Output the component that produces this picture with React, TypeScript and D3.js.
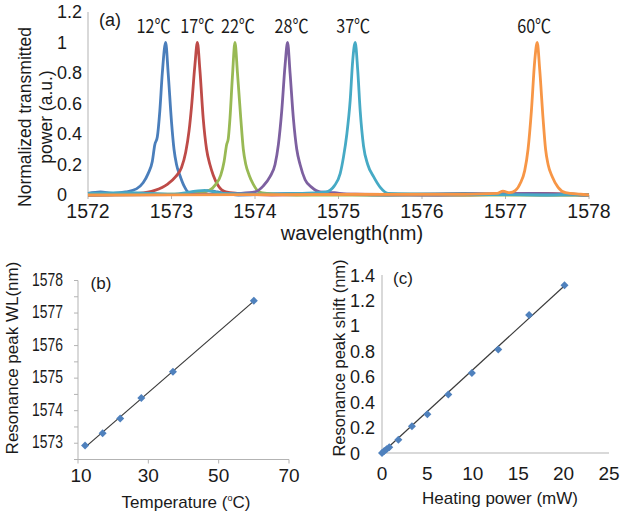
import { useEffect, useRef } from "react"
import * as d3 from "d3"

// (a) transmission spectra, [wavelength nm, normalized power]
const temps = [12, 17, 22, 28, 37, 60]
const curveColors = ["#4a7ebb", "#be4b48", "#98b954", "#7d60a0", "#46aac5", "#f79646"]

const spec12: [number, number][] = [
  [1572.0, 0.01], [1572.15, 0.02], [1572.3, 0.01], [1572.45, 0.02], [1572.58, 0.04], [1572.66, 0.08],
  [1572.72, 0.14], [1572.77, 0.22], [1572.8, 0.33], [1572.83, 0.38], [1572.86, 0.55], [1572.89, 0.8],
  [1572.93, 1.0], [1572.96, 0.8], [1573.0, 0.48], [1573.03, 0.3], [1573.06, 0.2], [1573.1, 0.13],
  [1573.15, 0.06], [1573.2, 0.02], [1573.3, 0.01], [1573.45, 0.03], [1573.55, 0.02], [1573.8, 0.0],
  [1574.5, 0.01], [1575.5, 0.0], [1576.5, 0.01], [1577.5, 0.0], [1578.0, 0.0],
]
const spec17: [number, number][] = [
  [1572.0, 0.0], [1572.4, 0.005], [1572.6, 0.01], [1572.8, 0.03], [1572.95, 0.07], [1573.05, 0.12],
  [1573.12, 0.18], [1573.17, 0.28], [1573.21, 0.42], [1573.24, 0.58], [1573.28, 0.85], [1573.31, 1.0],
  [1573.34, 0.82], [1573.38, 0.5], [1573.42, 0.3], [1573.46, 0.2], [1573.5, 0.13], [1573.56, 0.06],
  [1573.65, 0.02], [1573.8, 0.01], [1574.2, 0.0], [1575.2, 0.005], [1576.5, 0.0], [1577.4, 0.01],
  [1578.0, 0.0],
]
const spec22: [number, number][] = [
  [1572.0, 0.0], [1573.0, 0.005], [1573.3, 0.01], [1573.45, 0.03], [1573.53, 0.07], [1573.59, 0.13],
  [1573.63, 0.22], [1573.66, 0.33], [1573.68, 0.37], [1573.7, 0.5], [1573.73, 0.78], [1573.76, 1.0],
  [1573.79, 0.8], [1573.83, 0.5], [1573.86, 0.3], [1573.89, 0.2], [1573.93, 0.13], [1573.98, 0.07],
  [1574.05, 0.02], [1574.15, 0.01], [1574.5, 0.0], [1578.0, 0.0],
]
const spec28: [number, number][] = [
  [1572.0, 0.0], [1573.5, 0.005], [1573.8, 0.01], [1574.0, 0.02], [1574.1, 0.06], [1574.18, 0.12],
  [1574.24, 0.2], [1574.28, 0.33], [1574.32, 0.55], [1574.36, 0.85], [1574.39, 1.0], [1574.42, 0.8],
  [1574.46, 0.5], [1574.5, 0.3], [1574.54, 0.2], [1574.6, 0.1], [1574.68, 0.05], [1574.78, 0.02],
  [1574.95, 0.015], [1575.1, 0.005], [1576.0, 0.0], [1577.3, 0.01], [1578.0, 0.0],
]
const spec37: [number, number][] = [
  [1572.0, 0.01], [1572.5, 0.015], [1573.0, 0.005], [1573.4, 0.03], [1573.6, 0.01], [1574.0, 0.005],
  [1574.5, 0.01], [1574.75, 0.015], [1574.85, 0.02], [1574.95, 0.06], [1575.02, 0.14], [1575.06, 0.25],
  [1575.1, 0.4], [1575.14, 0.62], [1575.17, 0.88], [1575.2, 1.0], [1575.23, 0.82], [1575.26, 0.55],
  [1575.3, 0.32], [1575.35, 0.2], [1575.42, 0.12], [1575.5, 0.05], [1575.6, 0.01], [1576.5, 0.005],
  [1577.5, 0.0], [1577.8, 0.005], [1578.0, 0.0],
]
const spec60: [number, number][] = [
  [1572.0, 0.0], [1574.0, 0.002], [1576.5, 0.005], [1576.9, 0.01], [1576.97, 0.025], [1577.05, 0.015],
  [1577.12, 0.03], [1577.18, 0.08], [1577.23, 0.16], [1577.27, 0.3], [1577.31, 0.55], [1577.35, 0.88],
  [1577.38, 1.0], [1577.41, 0.82], [1577.45, 0.5], [1577.48, 0.3], [1577.51, 0.2], [1577.56, 0.12],
  [1577.63, 0.05], [1577.72, 0.015], [1577.9, 0.005], [1578.0, 0.0],
]
const spectra = [spec12, spec17, spec22, spec28, spec37, spec60]

// (b) resonance peak vs temperature
const peakWL = [1572.93, 1573.31, 1573.76, 1574.39, 1575.2, 1577.38]

// (c) peak shift vs heating power
const powerMW = [0, 0.25, 0.5, 0.8, 1.8, 3.3, 5.0, 7.3, 9.9, 12.8, 16.2, 20.1]
const shiftNM = [0, 0.015, 0.03, 0.045, 0.105, 0.21, 0.305, 0.46, 0.63, 0.815, 1.085, 1.32]

const wlTicks = [1572, 1573, 1574, 1575, 1576, 1577, 1578]
const powerTicks = [0, 0.2, 0.4, 0.6, 0.8, 1, 1.2]
const tempTicks = [10, 30, 50, 70]
const peakTicks = [1573, 1574, 1575, 1576, 1577, 1578]
const peakMinor = [1572.5, 1573.5, 1574.5, 1575.5, 1576.5, 1577.5]
const heatTicks = [0, 5, 10, 15, 20, 25]
const shiftTicks = [0, 0.2, 0.4, 0.6, 0.8, 1, 1.2, 1.4]

const font = "Arial, 'Liberation Sans', Helvetica, sans-serif"
const axisColor = "#b3b3b3"
const markerColor = "#4f81bd"

// least squares fit for the trendlines
const fit = (xs: number[], ys: number[]) => {
  const mx = d3.mean(xs) as number
  const my = d3.mean(ys) as number
  const sxy = d3.sum(xs, (x, i) => (x - mx) * (ys[i] - my))
  const sxx = d3.sum(xs, (x) => (x - mx) * (x - mx))
  const slope = sxy / sxx
  return (x: number) => my + slope * (x - mx)
}

const App = () => {
  const svgRef = useRef<SVGSVGElement>(null)

  useEffect(() => {
    const svg = d3.select(svgRef.current)
    svg.selectAll("*").remove()

    const txt = (g: any, x: number, y: number, s: string, size: number, anchor = "middle") =>
      g
        .append("text")
        .attr("x", x)
        .attr("y", y)
        .attr("text-anchor", anchor)
        .style("font-family", font)
        .style("font-size", size + "px")
        .style("fill", "#1a1a1a")
        .text(s)

    // ---------- panel (a) ----------
    const xA = d3.scaleLinear().domain([1572, 1578]).range([88, 589])
    const yA = d3.scaleLinear().domain([0, 1.2]).range([195, 12])
    const gA = svg.append("g")

    gA.append("line")
      .attr("x1", xA(1572)).attr("x2", xA(1572))
      .attr("y1", yA(0)).attr("y2", yA(1.2))
      .attr("stroke", axisColor)
    gA.append("line")
      .attr("x1", xA(1572)).attr("x2", xA(1578))
      .attr("y1", yA(0)).attr("y2", yA(0))
      .attr("stroke", axisColor)

    wlTicks.forEach((t) => {
      gA.append("line")
        .attr("x1", xA(t)).attr("x2", xA(t))
        .attr("y1", yA(0)).attr("y2", yA(0) + 4)
        .attr("stroke", axisColor)
      txt(gA, xA(t), 218, String(t), 19.5)
    })
    powerTicks.forEach((t) => txt(gA, 57, yA(t) + 6, String(t), 18, "start"))

    const lineA = d3
      .line<[number, number]>()
      .x((d) => xA(d[0]))
      .y((d) => yA(d[1]))
      .curve(d3.curveMonotoneX)

    spectra.forEach((s, i) => {
      gA.append("path")
        .datum(s)
        .attr("fill", "none")
        .attr("stroke", curveColors[i])
        .attr("stroke-width", 2.8)
        .attr("stroke-linejoin", "round")
        .attr("d", lineA)
    })

    // peak labels like "12℃", narrowed like the original
    const labelNudge = [-12, 0, 3, 4, -2, -3]
    temps.forEach((t, i) => {
      const lg = gA.append("g").attr("transform", `translate(${xA(peakWL[i]) + labelNudge[i]},33) scale(0.85,1)`)
      txt(lg, 0, 0, `${t}\u2103`, 19).style("font-family", "'Noto Sans CJK SC', 'DejaVu Sans', sans-serif")
    })

    txt(gA, 110, 26, "(a)", 18)
    txt(gA, 352, 240, "wavelength(nm)", 20)
    txt(gA, 0, 0, "Normalized transmitted", 17.5).attr("transform", "translate(31,117) rotate(-90)")
    txt(gA, 0, 0, "power (a.u.)", 17.5).attr("transform", "translate(52,117) rotate(-90)")

    // ---------- panel (b) ----------
    const xB = d3.scaleLinear().domain([10, 70]).range([78, 289])
    const yB = d3.scaleLinear().domain([1572.5, 1578]).range([459.5, 280.5])
    const gB = svg.append("g")

    gB.append("line")
      .attr("x1", xB(10)).attr("x2", xB(10))
      .attr("y1", yB(1572.5)).attr("y2", yB(1578))
      .attr("stroke", axisColor)
    gB.append("line")
      .attr("x1", xB(10)).attr("x2", xB(70))
      .attr("y1", yB(1572.5)).attr("y2", yB(1572.5))
      .attr("stroke", axisColor)

    peakTicks.concat(peakMinor).forEach((t) => {
      gB.append("line")
        .attr("x1", xB(10) - 4).attr("x2", xB(10))
        .attr("y1", yB(t)).attr("y2", yB(t))
        .attr("stroke", axisColor)
    })
    peakTicks.forEach((t) =>
      txt(gB, 63, yB(t) + 5, String(t), 19, "end")
        .attr("textLength", 31)
        .attr("lengthAdjust", "spacingAndGlyphs"),
    )
    tempTicks.forEach((t) => {
      gB.append("line")
        .attr("x1", xB(t)).attr("x2", xB(t))
        .attr("y1", yB(1572.5)).attr("y2", yB(1572.5) + 4)
        .attr("stroke", axisColor)
      txt(gB, xB(t) + (t === 10 ? 3 : 0), 482, String(t), 19)
    })

    const fitB = fit(temps, peakWL)
    gB.append("line")
      .attr("x1", xB(12)).attr("y1", yB(fitB(12)))
      .attr("x2", xB(60)).attr("y2", yB(fitB(60)))
      .attr("stroke", "#3a3a3a")
      .attr("stroke-width", 1.2)

    const diamond = d3.symbol().type(d3.symbolSquare).size(32)
    temps.forEach((t, i) => {
      gB.append("path")
        .attr("d", diamond())
        .attr("transform", `translate(${xB(t)},${yB(peakWL[i])}) rotate(45)`)
        .attr("fill", markerColor)
    })

    txt(gB, 101, 289, "(b)", 17)
    const tb = txt(gB, 186, 508, "Temperature (", 17)
    tb.append("tspan").attr("dy", -7).style("font-size", "9px").text("o")
    tb.append("tspan").attr("dy", 7).text("C)")
    txt(gB, 0, 0, "Resonance peak WL(nm)", 17).attr("transform", "translate(18,358) rotate(-90)")

    // ---------- panel (c) ----------
    const xC = d3.scaleLinear().domain([0, 25]).range([382, 609])
    const yC = d3.scaleLinear().domain([0, 1.4]).range([453, 275])
    const gC = svg.append("g")

    gC.append("line")
      .attr("x1", xC(0)).attr("x2", xC(0))
      .attr("y1", yC(0)).attr("y2", yC(1.4))
      .attr("stroke", axisColor)
    gC.append("line")
      .attr("x1", xC(0)).attr("x2", xC(25))
      .attr("y1", yC(0)).attr("y2", yC(0))
      .attr("stroke", axisColor)

    shiftTicks.forEach((t) => txt(gC, 350, yC(t) + 6.5, String(t), 18, "start"))
    heatTicks.forEach((t) => txt(gC, xC(t), 480, String(t), 19))

    const fitC = fit(powerMW, shiftNM)
    gC.append("line")
      .attr("x1", xC(0)).attr("y1", yC(Math.max(0, fitC(0))))
      .attr("x2", xC(20.1)).attr("y2", yC(fitC(20.1)))
      .attr("stroke", "#3a3a3a")
      .attr("stroke-width", 1.2)

    powerMW.forEach((p, i) => {
      gC.append("path")
        .attr("d", diamond())
        .attr("transform", `translate(${xC(p)},${yC(shiftNM[i])}) rotate(45)`)
        .attr("fill", markerColor)
    })

    txt(gC, 403, 284, "(c)", 17)
    txt(gC, 500, 504, "Heating power (mW)", 17)
    txt(gC, 0, 0, "Resonance peak shift (nm)", 16.5).attr("transform", "translate(345,358) rotate(-90)")
  }, [])

  return (
    <svg
      ref={svgRef}
      width={622}
      height={516}
      style={{ position: "absolute", left: 0, top: 0, background: "#fff" }}
    ></svg>
  )
}

export default App
